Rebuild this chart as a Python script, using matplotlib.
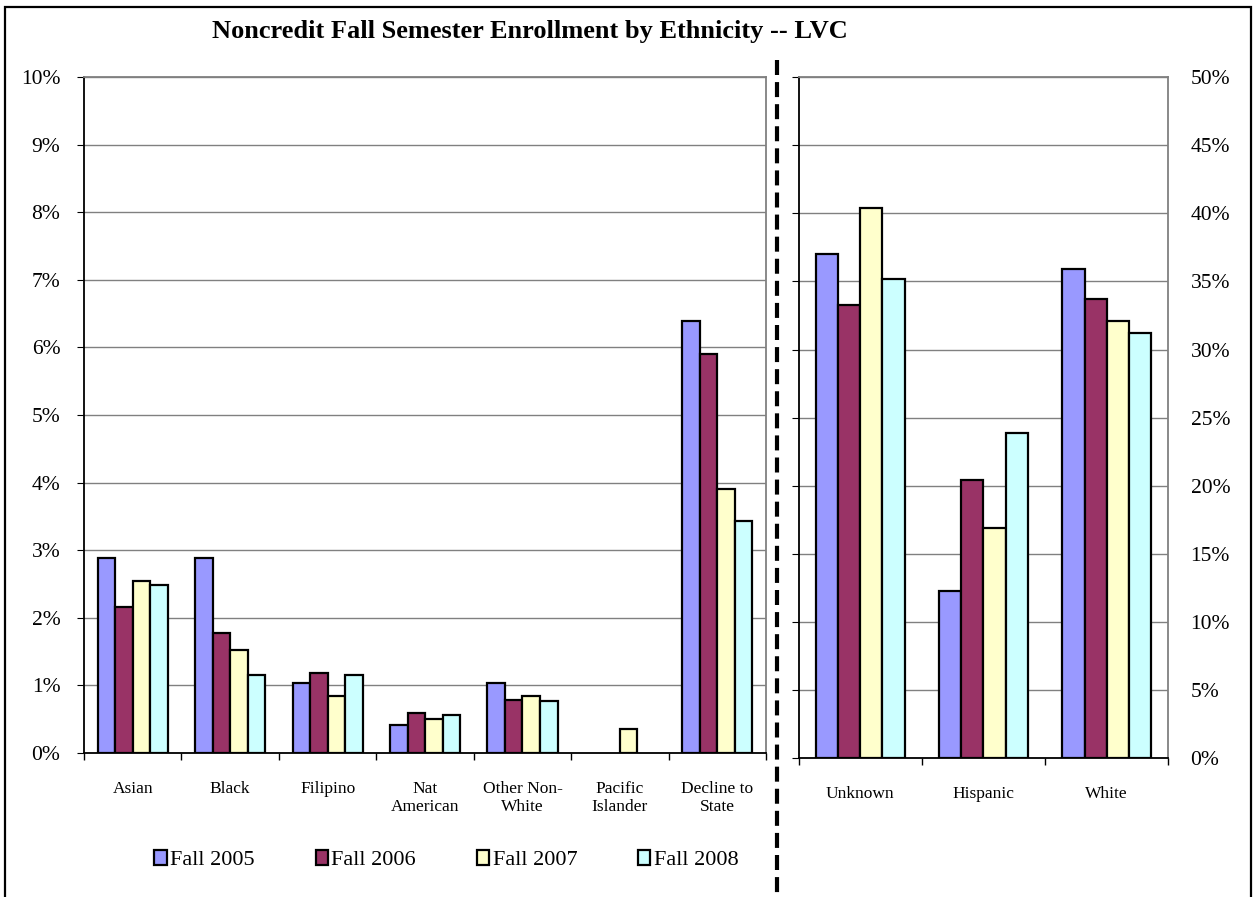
import matplotlib.pyplot as plt
import matplotlib.patches as mpatches
from matplotlib.lines import Line2D
import numpy as np

plt.rcParams['font.family'] = ['Liberation Serif', 'DejaVu Serif']

# small groups (left axis, %)
left_cats = ['Asian', 'Black', 'Filipino', 'Nat\nAmerican', 'Other Non-\nWhite',
             'Pacific\nIslander', 'Decline to\nState']
left_2005 = [2.88, 2.88, 1.03, 0.41, 1.03, 0.0, 6.39]
left_2006 = [2.16, 1.77, 1.18, 0.59, 0.79, 0.0, 5.91]
left_2007 = [2.54, 1.52, 0.85, 0.51, 0.85, 0.35, 3.90]
left_2008 = [2.48, 1.15, 1.15, 0.57, 0.77, 0.0, 3.43]

# large groups (right axis, %)
right_cats = ['Unknown', 'Hispanic', 'White']
right_2005 = [37.0, 12.3, 35.9]
right_2006 = [33.3, 20.4, 33.7]
right_2007 = [40.4, 16.9, 32.1]
right_2008 = [35.2, 23.9, 31.2]

years = ['Fall 2005', 'Fall 2006', 'Fall 2007', 'Fall 2008']
colors = ['#9999FF', '#993366', '#FFFFCC', '#CCFFFF']

fig = plt.figure(figsize=(12.54, 8.97), dpi=100)
ax1 = fig.add_axes([0.067, 0.1605, 0.5439, 0.7536])
ax2 = fig.add_axes([0.6368, 0.1546, 0.2949, 0.7595])

bw = 0.18


def draw_group(ax, cats, series, ymax, step):
    x = np.arange(len(cats))
    for i, (vals, c) in enumerate(zip(series, colors)):
        vals = np.array(vals)
        keep = vals > 0  # empty categories show no bar at all
        ax.bar(x[keep] + (i - 1.5) * bw, vals[keep], bw, color=c, edgecolor='black',
               linewidth=1.6, zorder=3)
    ax.set_xlim(-0.5, len(cats) - 0.5)
    ax.set_ylim(0, ymax)
    ticks = np.arange(0, ymax + step / 2, step)
    ax.set_yticks(ticks)
    ax.set_yticklabels([f'{int(round(v))}%' for v in ticks], fontsize=15.5)
    ax.set_xticks(x)
    ax.set_xticklabels(cats, fontsize=12.5, linespacing=1.15)
    ax.set_xticks(np.arange(-0.5, len(cats)), minor=True)
    ax.tick_params(axis='x', which='major', length=0, pad=20)
    ax.tick_params(axis='x', which='minor', length=5, direction='out', width=1)
    ax.grid(axis='y', color='#808080', linewidth=1, zorder=0)
    ax.spines['top'].set_color('#808080')
    ax.spines['right'].set_color('#808080')
    ax.spines['left'].set_color('black')
    ax.spines['bottom'].set_color('black')
    for s in ax.spines.values():
        s.set_linewidth(1.3)


draw_group(ax1, left_cats, [left_2005, left_2006, left_2007, left_2008], 10, 1)
ax1.tick_params(axis='y', length=5, pad=12)

draw_group(ax2, right_cats, [right_2005, right_2006, right_2007, right_2008], 50, 5)
ax2.tick_params(axis='y', left=True, right=False, labelleft=False, labelright=True,
                length=5, pad=11)

fig.text(0.4226, 0.965, 'Noncredit Fall Semester Enrollment by Ethnicity -- LVC',
         ha='center', va='center', fontsize=19, fontweight='bold')

# dashed separator between the two panels
fig.add_artist(Line2D([0.6196, 0.6196], [0.933, 0.0], transform=fig.transFigure,
                      color='black', linewidth=3, dashes=(3.6, 1.7)))

# outer frame
fig.add_artist(mpatches.Rectangle((0.004, -0.02), 0.994, 1 - 0.008 + 0.02,
                                  transform=fig.transFigure, fill=False,
                                  edgecolor='black', linewidth=1.6))

handles = [mpatches.Patch(facecolor=c, edgecolor='black', linewidth=1.6) for c in colors]
fig.legend(handles, years, loc='center', bbox_to_anchor=(0.356, 0.041), ncol=4,
           frameon=False, fontsize=16, handlelength=0.55, handleheight=0.65,
           handletextpad=0.15, columnspacing=2.75)

fig.savefig('out.png', dpi=100)
